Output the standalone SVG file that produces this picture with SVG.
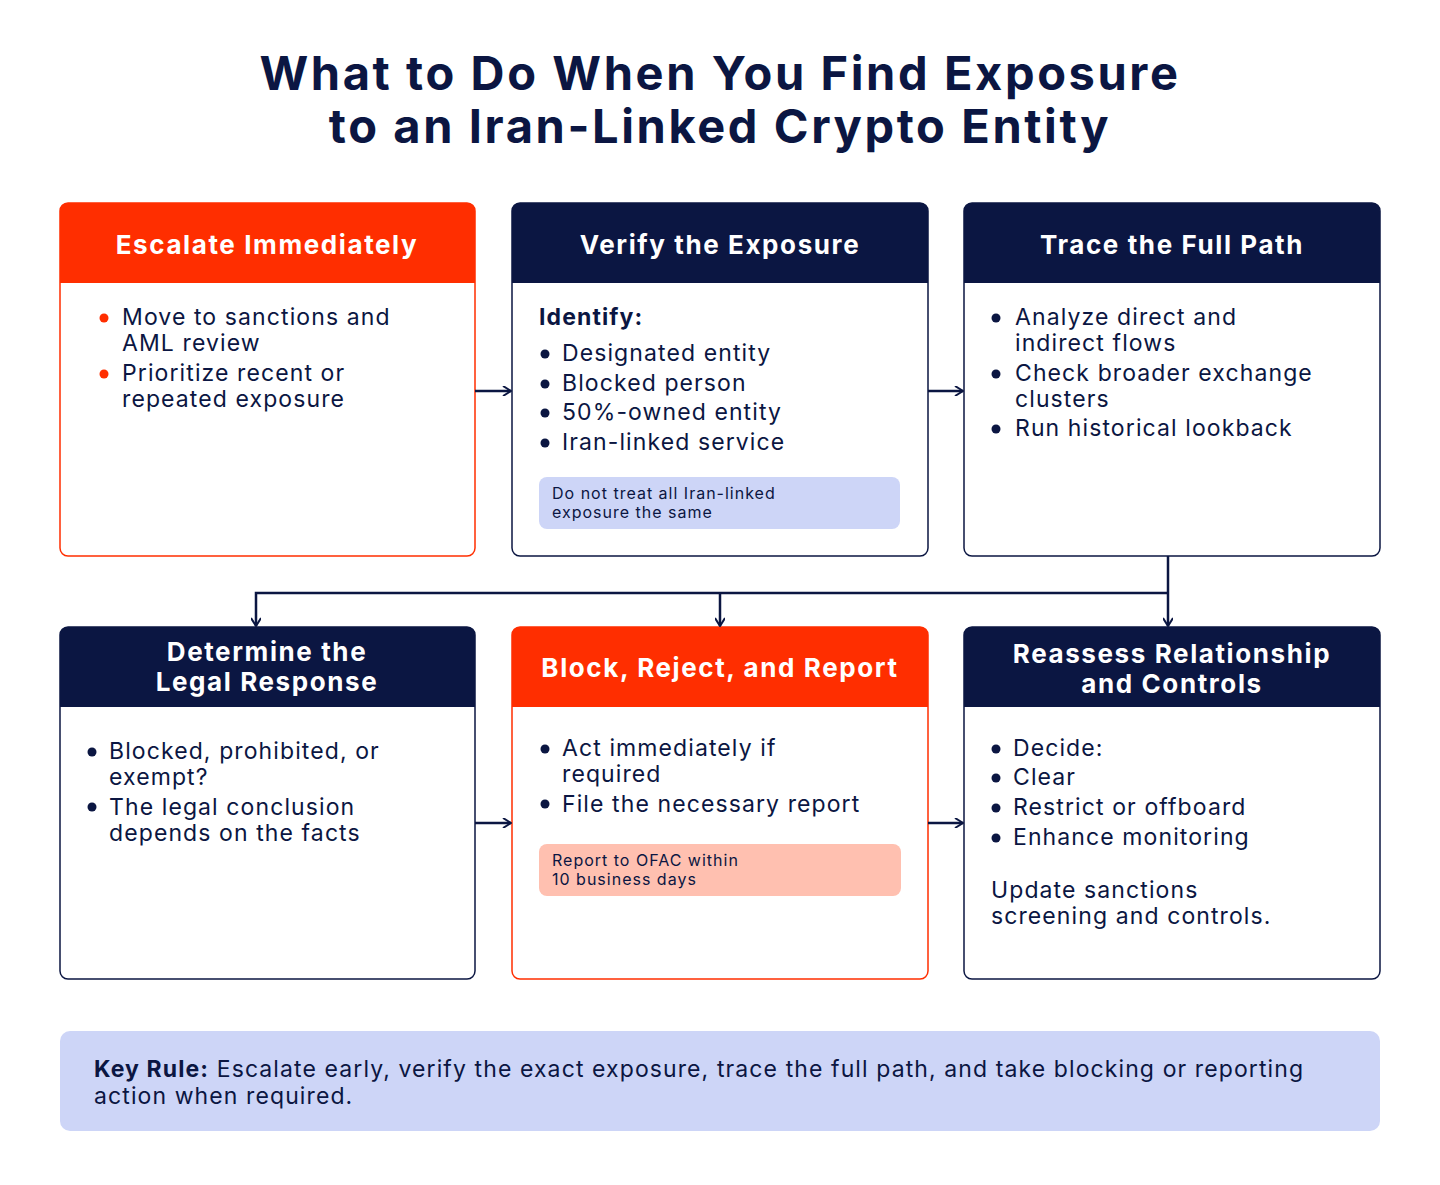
<svg xmlns="http://www.w3.org/2000/svg" width="1440" height="1185" viewBox="0 0 1440 1185">
<style>
.t{font-family:Inter,"Liberation Sans",sans-serif;font-weight:700;fill:#0B1642;font-size:47px;text-anchor:middle;letter-spacing:2.6px}
.h{font-family:Inter,"Liberation Sans",sans-serif;font-weight:700;fill:#fff;font-size:26px;text-anchor:middle;letter-spacing:1.6px}
.b{font-family:Inter,"Liberation Sans",sans-serif;font-size:23px;fill:#0B1642;letter-spacing:1.1px}
.s{font-family:Inter,"Liberation Sans",sans-serif;font-size:16px;fill:#0B1642;letter-spacing:1px}
.c{fill:none;stroke:#0B1642;stroke-width:2.5}
</style>
<defs>
<marker id="a" viewBox="0 0 10 10" refX="9" refY="5" markerWidth="10" markerHeight="10" markerUnits="userSpaceOnUse" orient="auto"><path d="M1,0 L9,5 L1,10" fill="none" stroke="#0B1642" stroke-width="2"/></marker>
</defs>
<rect width="1440" height="1185" fill="#fff"/>
<text class="t" x="720" y="90">What to Do When You Find Exposure</text>
<text class="t" x="720" y="143">to an Iran-Linked Crypto Entity</text>

<g id="n1">
<rect x="60" y="203" width="415" height="353" rx="8" fill="#fff" stroke="#FF2E00" stroke-width="1.5"/>
<path d="M60,283 V211 a8,8 0 0 1 8,-8 H467 a8,8 0 0 1 8,8 V283 Z" fill="#FF2E00"/>
<text class="h" x="267" y="254">Escalate Immediately</text>
<circle cx="104" cy="318" r="4.5" fill="#FF2E00"/><circle cx="104" cy="374" r="4.5" fill="#FF2E00"/>
<text class="b" x="122" y="325">Move to sanctions and</text><text class="b" x="122" y="351">AML review</text>
<text class="b" x="122" y="381">Prioritize recent or</text><text class="b" x="122" y="407">repeated exposure</text>
</g>
<g id="n2">
<rect x="512" y="203" width="416" height="353" rx="8" fill="#fff" stroke="#0B1642" stroke-width="1.5"/>
<path d="M512,283 V211 a8,8 0 0 1 8,-8 H920 a8,8 0 0 1 8,8 V283 Z" fill="#0B1642"/>
<text class="h" x="720" y="254">Verify the Exposure</text>
<text class="b" x="539" y="325" font-weight="700">Identify:</text>
<g fill="#0B1642"><circle cx="545" cy="354" r="4.5"/><circle cx="545" cy="384" r="4.5"/><circle cx="545" cy="413" r="4.5"/><circle cx="545" cy="443" r="4.5"/></g>
<text class="b" x="562" y="361">Designated entity</text><text class="b" x="562" y="391">Blocked person</text><text class="b" x="562" y="420">50%-owned entity</text><text class="b" x="562" y="450">Iran-linked service</text>
<rect x="539" y="477" width="361" height="52" rx="8" fill="#CDD5F7"/>
<text class="s" x="552" y="499">Do not treat all Iran-linked</text><text class="s" x="552" y="518">exposure the same</text>
</g>
<g id="n3">
<rect x="964" y="203" width="416" height="353" rx="8" fill="#fff" stroke="#0B1642" stroke-width="1.5"/>
<path d="M964,283 V211 a8,8 0 0 1 8,-8 H1372 a8,8 0 0 1 8,8 V283 Z" fill="#0B1642"/>
<text class="h" x="1172" y="254">Trace the Full Path</text>
<g fill="#0B1642"><circle cx="996" cy="318" r="4.5"/><circle cx="996" cy="374" r="4.5"/><circle cx="996" cy="429" r="4.5"/></g>
<text class="b" x="1015" y="325">Analyze direct and</text><text class="b" x="1015" y="351">indirect flows</text>
<text class="b" x="1015" y="381">Check broader exchange</text><text class="b" x="1015" y="407">clusters</text>
<text class="b" x="1015" y="436">Run historical lookback</text>
</g>
<g id="n4">
<rect x="60" y="627" width="415" height="352" rx="8" fill="#fff" stroke="#0B1642" stroke-width="1.5"/>
<path d="M60,707 V635 a8,8 0 0 1 8,-8 H467 a8,8 0 0 1 8,8 V707 Z" fill="#0B1642"/>
<text class="h" x="267" y="661">Determine the</text><text class="h" x="267" y="691">Legal Response</text>
<g fill="#0B1642"><circle cx="92" cy="752" r="4.5"/><circle cx="92" cy="807" r="4.5"/></g>
<text class="b" x="109" y="759">Blocked, prohibited, or</text><text class="b" x="109" y="785">exempt?</text>
<text class="b" x="109" y="815">The legal conclusion</text><text class="b" x="109" y="841">depends on the facts</text>
</g>
<g id="n5">
<rect x="512" y="627" width="416" height="352" rx="8" fill="#fff" stroke="#FF2E00" stroke-width="1.5"/>
<path d="M512,707 V635 a8,8 0 0 1 8,-8 H920 a8,8 0 0 1 8,8 V707 Z" fill="#FF2E00"/>
<text class="h" x="720" y="677">Block, Reject, and Report</text>
<g fill="#0B1642"><circle cx="545" cy="749" r="4.5"/><circle cx="545" cy="804" r="4.5"/></g>
<text class="b" x="562" y="756">Act immediately if</text><text class="b" x="562" y="782">required</text>
<text class="b" x="562" y="812">File the necessary report</text>
<rect x="539" y="844" width="362" height="52" rx="8" fill="#FFC0B0"/>
<text class="s" x="552" y="866">Report to OFAC within</text><text class="s" x="552" y="885">10 business days</text>
</g>
<g id="n6">
<rect x="964" y="627" width="416" height="352" rx="8" fill="#fff" stroke="#0B1642" stroke-width="1.5"/>
<path d="M964,707 V635 a8,8 0 0 1 8,-8 H1372 a8,8 0 0 1 8,8 V707 Z" fill="#0B1642"/>
<text class="h" x="1172" y="663">Reassess Relationship</text><text class="h" x="1172" y="693">and Controls</text>
<g fill="#0B1642"><circle cx="996" cy="749" r="4.5"/><circle cx="996" cy="778" r="4.5"/><circle cx="996" cy="808" r="4.5"/><circle cx="996" cy="838" r="4.5"/></g>
<text class="b" x="1013" y="756">Decide:</text><text class="b" x="1013" y="785">Clear</text><text class="b" x="1013" y="815">Restrict or offboard</text><text class="b" x="1013" y="845">Enhance monitoring</text>
<text class="b" x="991" y="898">Update sanctions</text><text class="b" x="991" y="924">screening and controls.</text>
</g>
<g id="key">
<rect x="60" y="1031" width="1320" height="100" rx="10" fill="#CDD5F7"/>
<text class="b" x="94" y="1077"><tspan font-weight="700">Key Rule:</tspan> Escalate early, verify the exact exposure, trace the full path, and take blocking or reporting</text>
<text class="b" x="94" y="1104">action when required.</text>
</g>
<g id="connectors">
<path class="c" d="M475,391 H511" marker-end="url(#a)"/>
<path class="c" d="M928,391 H963" marker-end="url(#a)"/>
<path class="c" d="M475,823 H511" marker-end="url(#a)"/>
<path class="c" d="M928,823 H963" marker-end="url(#a)"/>
<path class="c" d="M1168,556 V626" marker-end="url(#a)"/>
<path class="c" d="M1168,593 H256 V626" marker-end="url(#a)"/>
<path class="c" d="M720,593 V626" marker-end="url(#a)"/>
</g>
</svg>
